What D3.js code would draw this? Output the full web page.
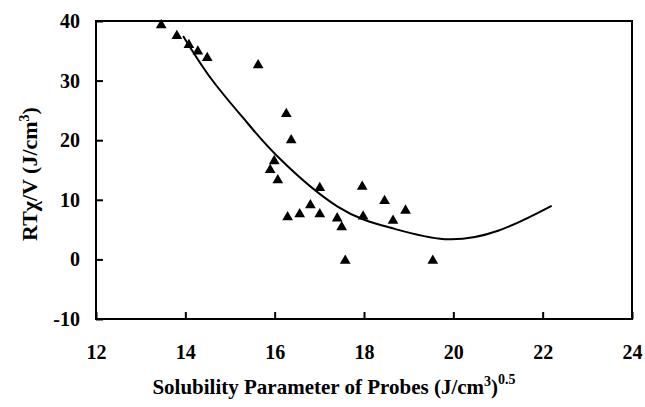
<!DOCTYPE html>
<html>
<head>
<meta charset="utf-8">
<script src="https://cdn.jsdelivr.net/npm/d3@7"></script>
<style>
  body { margin: 0; background: #fff; }
  text { font-family: "Liberation Serif", "Times New Roman", serif; font-weight: bold; fill: #000; }
</style>
</head>
<body>
<svg id="chart"></svg>
<script>
// measured probes: solubility parameter vs interaction parameter
var deltaX = [13.46, 13.81, 14.08, 14.28, 14.49, 15.63, 16.26, 16.37, 15.99, 15.90,
              16.07, 17.01, 17.96, 18.46, 18.93, 16.80, 16.56, 16.29, 17.01, 17.40,
              17.50, 17.98, 18.65, 17.58, 19.54];
var chiY   = [39.3, 37.5, 36.0, 34.9, 33.8, 32.6, 24.4, 20.0, 16.5, 15.0,
              13.3, 12.0, 12.2, 9.8, 8.2, 9.1, 7.6, 7.1, 7.6, 6.9,
              5.4, 7.2, 6.5, -0.2, -0.2];

// trend line
var fitX = [13.95, 14.6, 15.4, 16.1, 17.4, 18.6, 19.8, 21.0, 22.2];
var fitY = [37.5, 30.1, 22.8, 17.0, 8.9, 5.3, 3.4, 4.8, 9.0];

var xTicks = [12, 14, 16, 18, 20, 22, 24];
var yTicks = [-10, 0, 10, 20, 30, 40];

// set the dimensions and margins of the graph
var margin = {top: 21, right: 13, bottom: 88, left: 96},
    width  = 645 - margin.left - margin.right,
    height = 407 - margin.top - margin.bottom;

var svg = d3.select("#chart")
    .attr("width", 645)
    .attr("height", 407)
    .append("g")
        .attr("transform", "translate(" + margin.left + "," + margin.top + ")");

var x = d3.scaleLinear().domain([12, 24]).range([0, width]);
var y = d3.scaleLinear().domain([-10, 40]).range([height, 0]);

// axes, ticks pointing inward, plain hyphen for negatives
svg.append("g")
    .attr("transform", "translate(0," + height + ")")
    .call(d3.axisBottom(x).tickValues(xTicks).tickFormat(String).tickSizeInner(-7).tickSizeOuter(0).tickPadding(26))
    .call(function(g) {
        g.select(".domain").remove();
        g.selectAll("line").attr("stroke-width", 2);
        g.selectAll("text").style("font-size", "20px");
    });

svg.append("g")
    .call(d3.axisLeft(y).tickValues(yTicks).tickFormat(String).tickSizeInner(-7).tickSizeOuter(0).tickPadding(16))
    .call(function(g) {
        g.select(".domain").remove();
        g.selectAll("line").attr("stroke-width", 2);
        g.selectAll("text").style("font-size", "20px");
    });

// frame
svg.append("rect")
    .attr("width", width)
    .attr("height", height)
    .attr("fill", "none")
    .attr("stroke", "#000")
    .attr("stroke-width", 2);

// fitted curve
var line = d3.line()
    .x(function(d) { return x(d[0]); })
    .y(function(d) { return y(d[1]); })
    .curve(d3.curveNatural);

svg.append("path")
    .datum(d3.zip(fitX, fitY))
    .attr("fill", "none")
    .attr("stroke", "#000")
    .attr("stroke-width", 2)
    .attr("d", line);

// points
svg.append("g")
    .selectAll("path")
    .data(d3.zip(deltaX, chiY))
    .enter().append("path")
        .attr("transform", function(d) { return "translate(" + x(d[0]) + "," + y(d[1]) + ")"; })
        .attr("d", d3.symbol().type(d3.symbolTriangle).size(50))
        .attr("fill", "#000");

// axis titles
var xt = svg.append("text")
    .attr("x", 334 - margin.left)
    .attr("y", 394 - margin.top)
    .attr("text-anchor", "middle")
    .style("font-size", "21px");
xt.append("tspan").text("Solubility Parameter of Probes (J/cm");
xt.append("tspan").attr("dy", -8).style("font-size", "14px").text("3");
xt.append("tspan").attr("dy", 8).text(")");
xt.append("tspan").attr("dy", -10).style("font-size", "14px").text("0.5");

var yt = svg.append("text")
    .attr("transform", "translate(" + (37 - margin.left) + "," + (174 - margin.top) + ") rotate(-90)")
    .attr("text-anchor", "middle")
    .style("font-size", "22px");
yt.append("tspan").text("RT\u03c7/V (J/cm");
yt.append("tspan").attr("dy", -8).style("font-size", "14px").text("3");
yt.append("tspan").attr("dy", 8).text(")");
</script>
</body>
</html>
